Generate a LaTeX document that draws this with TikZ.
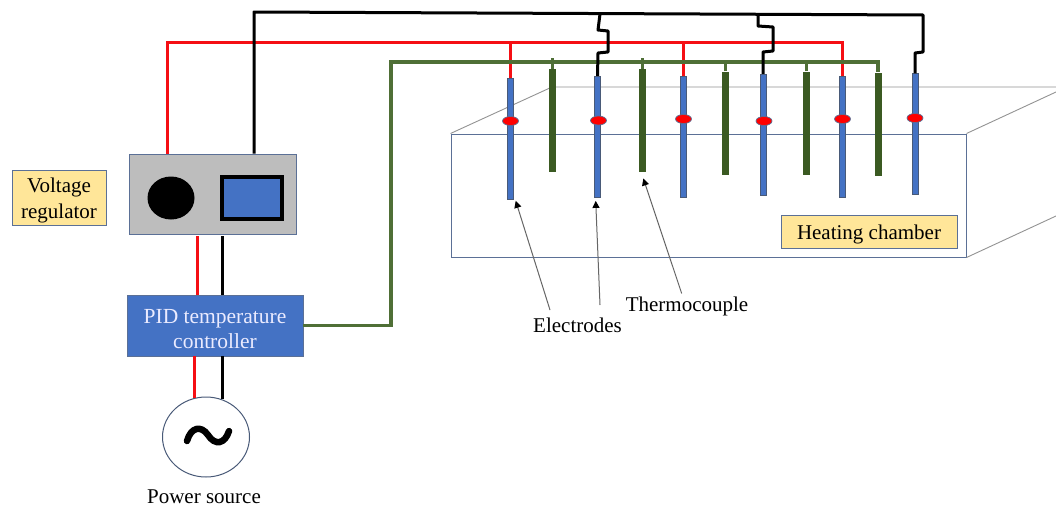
\documentclass[tikz,border=0pt]{standalone}
\usepackage{fontspec}
\setmainfont{Liberation Serif}
\usetikzlibrary{arrows.meta,calc,shapes.geometric}
\definecolor{edgeblue}{HTML}{5B7096}
\definecolor{fillblue}{HTML}{4472C4}
\definecolor{wiregreen}{HTML}{4F6F36}
\definecolor{rodgreen}{HTML}{3B5A22}
\definecolor{labelyellow}{HTML}{FFE699}
\definecolor{boxgray}{HTML}{BDBDBD}
\definecolor{wirered}{HTML}{F50F14}
\tikzset{
  x=1pt,y=-1pt,
  box/.style={draw=edgeblue,line width=.9pt,inner sep=0pt},
  tag/.style={box,fill=labelyellow},
  boxtext/.style={inner sep=0pt,yshift=-3pt,align=center,font=\fontsize{21}{25.5}\selectfont},
  pidtext/.style={boxtext,text=white!92!blue,yshift=-.4pt,font=\fontsize{21.5}{25.5}\selectfont},
  electrode/.style={draw=edgeblue!80!black,line width=.4pt,fill=fillblue,minimum width=6pt,minimum height=121pt,inner sep=0pt},
  rod/.style={fill=rodgreen,minimum width=7pt,minimum height=103pt,inner sep=0pt},
  bead/.style={ellipse,draw=edgeblue,line width=.7pt,fill=red,minimum width=16pt,minimum height=9pt,inner sep=0pt},
  redwire/.style={draw=wirered,line width=3pt},
  blackwire/.style={draw=black,line width=3pt,line join=round},
  greenwire/.style={draw=wiregreen,line width=3.2pt},
  stem/.style={draw=wiregreen,line width=3pt},
  chamberline/.style={draw=gray!85,line width=.9pt},
  pointer/.style={draw=gray!80!black,line width=1pt,-{Triangle[black,length=7pt,width=7pt]}},
  caption/.style={inner sep=0pt,font=\fontsize{21}{25}\selectfont},
}
\begin{document}
\begin{tikzpicture}
\useasboundingbox (0,0) rectangle (1056,506);
\fill[white] (0,0) rectangle (1056,506);

% chamber
\coordinate (bl) at (552,87);
\coordinate (br) at (1056,87);
\coordinate (uoff) at (1056,92);
\coordinate (loff) at (1056,216);
\node[draw=edgeblue,line width=1pt,minimum width=515pt,minimum height=123pt,inner sep=0pt] (chamber) at (708.5,195.5) {};
\draw[chamberline] (chamber.north west) -- (bl) -- (br);
\draw[chamberline] (chamber.north east) -- (uoff);
\draw[chamberline] (chamber.south east) -- (loff);
\node[tag,minimum width=176pt,minimum height=33pt,label={[boxtext]center:Heating chamber}] (hc) at (869,231.5) {};

% equipment
\node[tag,minimum width=94pt,minimum height=55pt,label={[boxtext]center:{Voltage\\regulator}}] (vr) at (59,197.5) {};
\node[box,fill=boxgray,minimum width=167pt,minimum height=80pt] (reg) at (212.5,194) {};
\node[ellipse,fill=black,minimum width=47pt,minimum height=43pt,inner sep=0pt] (knob) at (171,198) {};
\node[draw=black,line width=4.5pt,fill=fillblue,minimum width=60pt,minimum height=42pt,inner sep=0pt] (screen) at (252,198) {};
\node[box,fill=fillblue,minimum width=176pt,minimum height=61pt,label={[pidtext]center:{PID temperature\\controller}}] (pid) at (215,325.5) {};
\node[ellipse,draw=edgeblue!80!black,line width=1pt,fill=white,minimum width=87pt,minimum height=80pt,inner sep=0pt] (src) at (206,437) {};
\node[caption] (ps) at (204,497) {Power source};
\draw[line width=6.5pt,line cap=round] (187,441) .. controls (191,427) and (201,425) .. (208,435) .. controls (215,446) and (225,444) .. (229,431);

% electrodes and thermocouples
\node[electrode] (e1) at (510,138.5) {};
\node[electrode] (e2) at (597.5,136.5) {};
\node[electrode] (e3) at (683,136.5) {};
\node[electrode] (e4) at (763,134.5) {};
\node[electrode] (e5) at (842,136.5) {};
\node[electrode] (e6) at (915,134) {};
\node[rod] (t1) at (552.5,120.5) {};
\node[rod] (t2) at (642.5,120.5) {};
\node[rod] (t3) at (725,123) {};
\node[rod] (t4) at (806,123) {};
\node[rod] (t5) at (878,124) {};
\node[bead] (b1) at (510.5,121) {};
\node[bead] (b2) at (598.5,120.5) {};
\node[bead] (b3) at (683.5,119) {};
\node[bead] (b4) at (764,121) {};
\node[bead] (b5) at (842.5,119) {};
\node[bead] (b6) at (915,118) {};

% red wiring
\coordinate (r1) at (167,42);
\coordinate (r2) at (842,42);
\draw[redwire] (reg.north -| r1) -- (r1) -- (r2) -- (e5.north);
\draw[redwire] (e1.north) -- (e1.north |- r1);
\draw[redwire] (e3.north) -- (e3.north |- r1);

% green wiring
\coordinate (g1) at (391,325.5);
\coordinate (g2) at (391,62);
\coordinate (g3) at (878,62);
\draw[greenwire] (pid.east |- g1) -- (g1) -- (g2) -- (g3) -- (t5.north);
\foreach \t/\top in {t1/58,t2/58,t3/62,t4/60}
  \draw[stem] (\t.north) -- (\t.north |- 0,\top);

% black wiring
\coordinate (k1) at (254,12);
\coordinate (k2) at (923,15);
\coordinate (k3) at (923,52);
\coordinate (k4) at (915,53);
\draw[blackwire] (reg.north -| k1) -- (k1) -- (k2) -- (k3) -- (k4) -- (e6.north);
\coordinate (m1) at (600,14);
\coordinate (m2) at (598,30);
\coordinate (m3) at (608,31);
\coordinate (m4) at (608,52);
\coordinate (m5) at (598,53);
\draw[blackwire] (m1) -- (m2) -- (m3) -- (m4) -- (m5) -- (e2.north);
\coordinate (n1) at (758,14);
\coordinate (n2) at (758,26);
\coordinate (n3) at (773,27);
\coordinate (n4) at (773,51);
\coordinate (n5) at (763,52);
\draw[blackwire] (n1) -- (n2) -- (n3) -- (n4) -- (n5) -- (e4.north);

% vertical links
\coordinate (a1) at (197,236);
\coordinate (a2) at (222,236);
\coordinate (a3) at (194.5,356);
\coordinate (a4) at (222,356);
\coordinate (s1) at (194.5,398);
\coordinate (s2) at (222,399);
\draw[redwire] (a1) -- (a1 |- pid.north);
\draw[blackwire] (a2) -- (a2 |- pid.north);
\draw[redwire] (a3) -- (s1);
\draw[blackwire] (a4) -- (s2);

% labels and pointers
\node[caption] (el) at (577.5,325.5) {Electrodes};
\node[caption] (th) at (687,306.5) {Thermocouple};
\coordinate (p1) at (550,310);
\coordinate (p2) at (600,305);
\coordinate (p3) at (681.7,293.5);
\draw[pointer] (p1) -- ($(e1.south)+(5.7,1.7)$);
\draw[pointer] (p2) -- ($(e2.south)+(-1.8,3.7)$);
\draw[pointer] (p3) -- ($(t2.south)+(.8,6.3)$);
\end{tikzpicture}
\end{document}
